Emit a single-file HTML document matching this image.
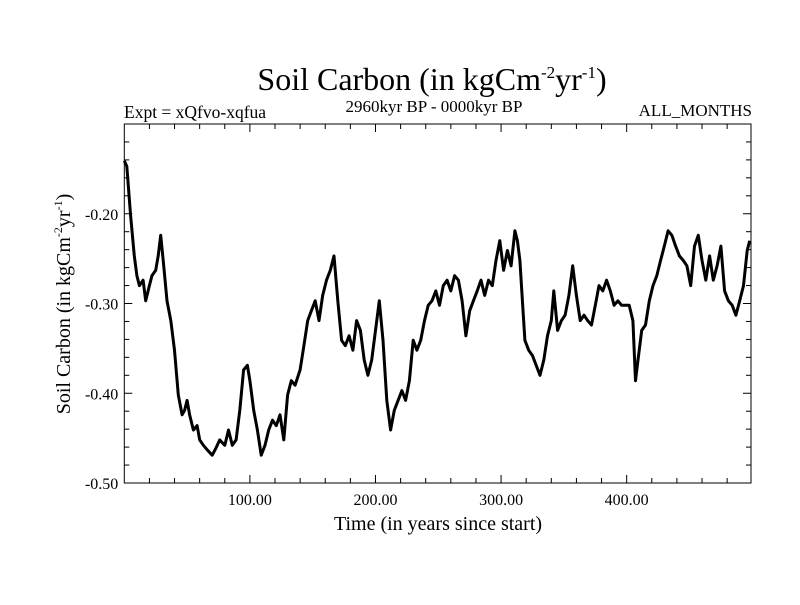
<!DOCTYPE html>
<html><head><meta charset="utf-8"><style>
body{margin:0;background:#fff;}
svg{font-family:"Liberation Serif",serif;}
</style></head><body>
<svg id="chart" width="800" height="600">
<rect width="800" height="600" fill="#fff"/>
<text x="432" y="90" font-size="32" text-anchor="middle">Soil Carbon (in kgCm<tspan dy="-12" font-size="17">-2</tspan><tspan dy="12">yr</tspan><tspan dy="-12" font-size="17">-1</tspan><tspan dy="12">)</tspan></text>
<text x="124" y="118" font-size="17.5">Expt = xQfvo-xqfua</text>
<text x="434" y="112" font-size="17" text-anchor="middle">2960kyr BP - 0000kyr BP</text>
<text x="752" y="116" font-size="17" text-anchor="end">ALL_MONTHS</text>
<text x="438" y="530" font-size="20" text-anchor="middle">Time (in years since start)</text>
<text transform="translate(70,304) rotate(-90)" font-size="20" text-anchor="middle">Soil Carbon (in kgCm<tspan dy="-8" font-size="12">-2</tspan><tspan dy="8">yr</tspan><tspan dy="-8" font-size="12">-1</tspan><tspan dy="8">)</tspan></text>
<g id="axes"></g>
<g id="series"></g>
</svg>
<script>
const years=[0,2,5,8,10,12,15,17,20,22,25,27,29,31,34,37,40,43,46,48,50,52,55,58,60,63,66,70,73,76,80,83,86,89,92,95,98,100,103,106,109,112,115,118,121,124,127,130,133,136,140,143,146,149,152,155,158,161,164,167,170,173,176,179,182,185,188,191,194,197,200,203,206,209,212,215,218,221,224,227,230,233,236,239,242,245,248,251,254,257,260,263,266,269,272,275,278,281,284,287,290,293,296,299,302,305,308,311,313,315,317,319,322,325,328,331,334,337,340,342,345,348,351,354,357,360,363,366,369,372,375,378,381,384,387,390,393,396,399,402,405,407,409,412,415,418,421,424,427,430,433,436,439,442,445,448,451,454,457,460,463,466,469,472,475,478,481,484,487,490,493,496,498];
const values=[-0.141,-0.147,-0.202,-0.247,-0.269,-0.280,-0.274,-0.297,-0.280,-0.269,-0.263,-0.247,-0.224,-0.252,-0.297,-0.319,-0.352,-0.402,-0.424,-0.419,-0.408,-0.424,-0.441,-0.436,-0.452,-0.458,-0.463,-0.469,-0.461,-0.452,-0.458,-0.441,-0.458,-0.452,-0.419,-0.374,-0.369,-0.386,-0.419,-0.441,-0.469,-0.458,-0.441,-0.430,-0.436,-0.424,-0.452,-0.402,-0.386,-0.391,-0.374,-0.347,-0.319,-0.308,-0.297,-0.319,-0.291,-0.274,-0.263,-0.247,-0.297,-0.341,-0.347,-0.336,-0.352,-0.319,-0.330,-0.363,-0.380,-0.363,-0.330,-0.297,-0.341,-0.408,-0.441,-0.419,-0.408,-0.397,-0.408,-0.386,-0.341,-0.352,-0.341,-0.319,-0.302,-0.297,-0.286,-0.302,-0.280,-0.274,-0.286,-0.269,-0.274,-0.297,-0.336,-0.308,-0.297,-0.286,-0.274,-0.291,-0.274,-0.280,-0.252,-0.230,-0.263,-0.241,-0.258,-0.219,-0.230,-0.252,-0.297,-0.341,-0.352,-0.358,-0.369,-0.380,-0.363,-0.336,-0.319,-0.286,-0.330,-0.319,-0.313,-0.291,-0.258,-0.291,-0.319,-0.313,-0.319,-0.324,-0.302,-0.280,-0.286,-0.274,-0.286,-0.302,-0.297,-0.302,-0.302,-0.302,-0.319,-0.386,-0.363,-0.330,-0.324,-0.297,-0.280,-0.269,-0.252,-0.236,-0.219,-0.224,-0.236,-0.247,-0.252,-0.258,-0.280,-0.236,-0.224,-0.252,-0.274,-0.247,-0.274,-0.258,-0.236,-0.286,-0.297,-0.302,-0.313,-0.297,-0.280,-0.241,-0.230];
const xTicks=[100,200,300,400];
const yTicks=[-0.5,-0.4,-0.3,-0.2];
const L=124.3,R=751,T=124,B=483,XMIN=0,XMAX=499,YMIN=-0.5,YMAX=-0.1;
const xs=v=>L+(v-XMIN)/(XMAX-XMIN)*(R-L);
const ys=v=>B-(v-YMIN)/(YMAX-YMIN)*(B-T);
const NS="http://www.w3.org/2000/svg";
const axes=document.getElementById('axes');
function mk(tag,attrs,parent){const e=document.createElementNS(NS,tag);for(const k in attrs)e.setAttribute(k,attrs[k]);parent.appendChild(e);return e;}
const frame=mk('rect',{x:L,y:T,width:R-L,height:B-T,fill:'none',stroke:'#000','stroke-width':1},axes);


for(let v=20;v<XMAX;v+=20){
 const major=v%100===0;const len=major?8:5;const x=xs(v);
 const t1=mk('line',{x1:x,x2:x,y1:B,y2:B-len,stroke:'#000'},axes);
 
 
 const t2=mk('line',{x1:x,x2:x,y1:T,y2:T+len,stroke:'#000'},axes);
 
 
}
for(let i=1;i<20;i++){
 const v=YMIN+i*0.02;const major=i%5===0;const len=major?8:5;const y=ys(v);
 const t1=mk('line',{x1:L,x2:L+len,y1:y,y2:y,stroke:'#000'},axes);
 
 
 const t2=mk('line',{x1:R,x2:R-len,y1:y,y2:y,stroke:'#000'},axes);
 
 
}
xTicks.forEach(v=>{const t=mk('text',{x:xs(v),y:B+22,'font-size':16,'text-anchor':'middle'},axes);t.textContent=v.toFixed(2);
 
 });
yTicks.forEach(v=>{const t=mk('text',{x:L-6,y:ys(v)+6,'font-size':16,'text-anchor':'end'},axes);t.textContent=v.toFixed(2);
 
 });
const pts=years.map((y,i)=>xs(y).toFixed(1)+','+ys(values[i]).toFixed(1)).join(' ');
const line=mk('polyline',{points:pts,fill:'none',stroke:'#000','stroke-width':3,'stroke-linejoin':'round'},document.getElementById('series'));


</script>
</body></html>
